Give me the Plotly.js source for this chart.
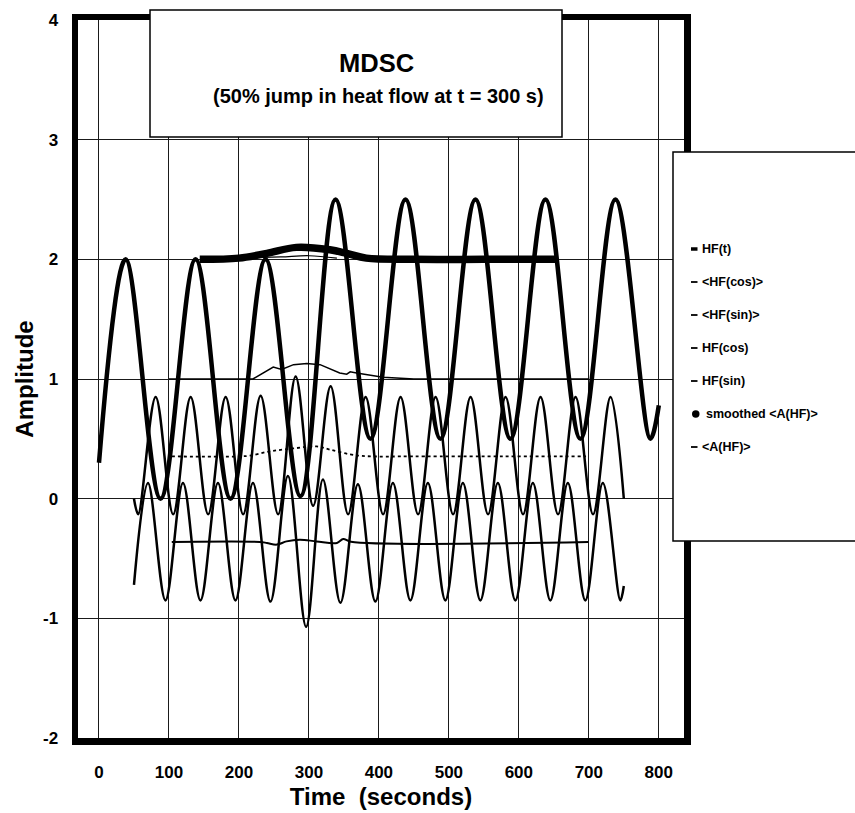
<!DOCTYPE html>
<html><head><meta charset="utf-8">
<script src="https://cdn.plot.ly/plotly-3.0.1.min.js"></script>
<style>html,body{margin:0;padding:0;background:#fff;} #chart{width:855px;height:813px;}</style>
</head><body><div id="chart"></div>
<script>
// ---- data ----
const hfT_t = [0, 38, 88, 138, 188, 238, 288, 338, 388, 438, 488, 538, 588, 638, 688, 738, 788, 800];
const hfT_v = [0.3, 2.0, 0.0, 2.0, 0.0, 2.0, 0.02, 2.5, 0.5, 2.5, 0.5, 2.5, 0.5, 2.5, 0.5, 2.5, 0.5, 0.78];

const hfCos_t = [50, 56, 81, 106, 131, 156, 181, 206, 231, 256, 281, 306, 331, 356, 381, 406, 431, 456, 481, 506, 531, 556, 581, 606, 631, 656, 681, 706, 731, 750];
const hfCos_v = [0.0, -0.13, 0.85, -0.13, 0.85, -0.13, 0.85, -0.13, 0.86, -0.13, 1.02, -0.06, 0.94, -0.13, 0.85, -0.13, 0.85, -0.13, 0.85, -0.13, 0.85, -0.13, 0.85, -0.13, 0.85, -0.13, 0.85, -0.13, 0.85, 0.0];

const hfSin_t = [50, 70, 95, 120, 145, 170, 195, 220, 245, 270, 296, 320, 345, 370, 395, 420, 445, 470, 495, 520, 545, 570, 595, 620, 645, 670, 695, 720, 745, 750];
const hfSin_v = [-0.72, 0.13, -0.85, 0.13, -0.85, 0.13, -0.85, 0.13, -0.86, 0.19, -1.07, 0.16, -0.87, 0.12, -0.86, 0.13, -0.85, 0.13, -0.85, 0.13, -0.85, 0.13, -0.85, 0.13, -0.85, 0.13, -0.85, 0.13, -0.85, -0.73];

const meanCos_t = [104, 200, 216, 244, 278, 311, 330, 359, 382, 450, 696];
const meanCos_v = [0.353, 0.353, 0.36, 0.395, 0.42, 0.437, 0.41, 0.37, 0.355, 0.353, 0.353];

const meanSin_t = [104, 230, 240, 254, 268, 287, 311, 340, 349, 360, 699];
const meanSin_v = [-0.362, -0.362, -0.37, -0.384, -0.357, -0.343, -0.357, -0.37, -0.337, -0.36, -0.362];

const ampA_t = [100, 220, 249, 261, 278, 297, 316, 344, 354, 359, 368, 382, 406, 450, 700];
const ampA_v = [1.0, 1.0, 1.10, 1.08, 1.12, 1.13, 1.12, 1.05, 1.04, 1.06, 1.05, 1.035, 1.015, 1.0, 1.0];

const smooth_t = [144, 200, 240, 282, 330, 354, 382, 450, 550, 652];
const smooth_v = [2.0, 2.01, 2.05, 2.1, 2.08, 2.05, 2.01, 2.0, 2.0, 2.0];

const smoothEdge_t = [201, 260, 300, 340];
const smoothEdge_v = [2.01, 2.02, 2.03, 2.01];

const xTicks = [0, 100, 200, 300, 400, 500, 600, 700, 800];
const yTicks = [-2, -1, 0, 1, 2, 3, 4];
const legendNames = ["HF(t)", "<HF(cos)>", "<HF(sin)>", "HF(cos)", "HF(sin)", "smoothed <A(HF)>", "<A(HF)>"];

// ---- geometry (pixels) ----
const L = 78, R = 684, T = 20, B = 738;
const px = x => (x - L) / (R - L);
const py = y => (B - y) / (B - T);
const FONT = "Liberation Sans, Arial, Helvetica, sans-serif";

const traces = [
  {x: hfT_t, y: hfT_v, name: legendNames[0], mode: 'lines', line: {color: '#000', width: 4.5, shape: 'spline', smoothing: 1}},
  {x: meanCos_t, y: meanCos_v, name: legendNames[1], mode: 'lines', line: {color: '#000', width: 1.8, dash: 'dot', shape: 'spline'}},
  {x: meanSin_t, y: meanSin_v, name: legendNames[2], mode: 'lines', line: {color: '#000', width: 2, shape: 'spline'}},
  {x: hfCos_t, y: hfCos_v, name: legendNames[3], mode: 'lines', line: {color: '#000', width: 2.5, shape: 'spline', smoothing: 1}},
  {x: hfSin_t, y: hfSin_v, name: legendNames[4], mode: 'lines', line: {color: '#000', width: 2.5, shape: 'spline', smoothing: 1}},
  {x: smooth_t, y: smooth_v, name: legendNames[5], mode: 'lines', line: {color: '#000', width: 7.5, shape: 'spline'}},
  {x: smoothEdge_t, y: smoothEdge_v, name: 'smoothed edge', showlegend: false, mode: 'lines', line: {color: '#000', width: 1.2, shape: 'spline'}},
  {x: ampA_t, y: ampA_v, name: legendNames[6], mode: 'lines', line: {color: '#000', width: 1.5}}
];

const shapes = [];
const annotations = [];

// title box
shapes.push({type: 'rect', xref: 'paper', yref: 'paper', x0: px(150), x1: px(562), y0: py(137), y1: py(10),
  fillcolor: '#fff', line: {color: '#000', width: 1.5}, layer: 'above'});
annotations.push({xref: 'paper', yref: 'paper', x: px(376), y: py(63), text: '<b>MDSC</b>', showarrow: false,
  font: {family: FONT, size: 25.5, color: '#000'}, xanchor: 'center', yanchor: 'middle'});
annotations.push({xref: 'paper', yref: 'paper', x: px(378), y: py(96), text: '<b>(50% jump in heat flow at t = 300 s)</b>', showarrow: false,
  font: {family: FONT, size: 20, color: '#000'}, xanchor: 'center', yanchor: 'middle'});

// legend box
shapes.push({type: 'rect', xref: 'paper', yref: 'paper', x0: px(673), x1: px(870), y0: py(541), y1: py(152),
  fillcolor: '#fff', line: {color: '#000', width: 1.5}, layer: 'above'});
const esc = s => s.replace(/</g, '&lt;').replace(/>/g, '&gt;');
legendNames.forEach((nm, i) => {
  const yy = 249 + 33 * i;
  if (i === 5) {
    shapes.push({type: 'circle', xref: 'paper', yref: 'paper', x0: px(692), x1: px(699.5), y0: py(yy + 3.7), y1: py(yy - 3.7),
      fillcolor: '#000', line: {color: '#000', width: 0}, layer: 'above'});
  } else {
    shapes.push({type: 'line', xref: 'paper', yref: 'paper', x0: px(691), x1: px(697.5), y0: py(yy), y1: py(yy),
      line: {color: '#000', width: i === 0 ? 3.5 : 1.8}, layer: 'above'});
  }
  annotations.push({xref: 'paper', yref: 'paper', x: px(i === 5 ? 704 : 700), y: py(yy), text: '<b>' + esc(nm) + '</b>',
    showarrow: false, xanchor: 'left', yanchor: 'middle', font: {family: FONT, size: 12.5, color: '#000'}});
});

const layout = {
  width: 855, height: 813,
  margin: {l: L, r: 855 - R, t: T, b: 813 - B, pad: 0},
  paper_bgcolor: '#fff', plot_bgcolor: '#fff',
  showlegend: false,
  font: {family: FONT, color: '#000'},
  xaxis: {
    range: [-30, 836], tickvals: xTicks, ticktext: xTicks.map(String),
    showgrid: true, gridcolor: '#1a1a1a', gridwidth: 1, zeroline: false,
    showline: true, linecolor: '#000', linewidth: 6.5, mirror: true, ticks: '',
    tickfont: {family: FONT, size: 17, weight: 'bold', color: '#000'}, ticklabelstandoff: 13,
    title: {text: 'Time  (seconds)', font: {family: FONT, size: 24, weight: 'bold', color: '#000'}, standoff: 10}
  },
  yaxis: {
    range: [-2, 4], tickvals: yTicks, ticktext: yTicks.map(String),
    showgrid: true, gridcolor: '#1a1a1a', gridwidth: 1, zeroline: false,
    showline: true, linecolor: '#000', linewidth: 6.5, mirror: true, ticks: '',
    tickfont: {family: FONT, size: 17, weight: 'bold', color: '#000'}, ticklabelstandoff: 10,
    title: {text: 'Amplitude', font: {family: FONT, size: 24, weight: 'bold', color: '#000'}, standoff: 5}
  },
  shapes: shapes,
  annotations: annotations
};

Plotly.newPlot('chart', traces, layout, {displayModeBar: false, staticPlot: true});
</script>
</body></html>
